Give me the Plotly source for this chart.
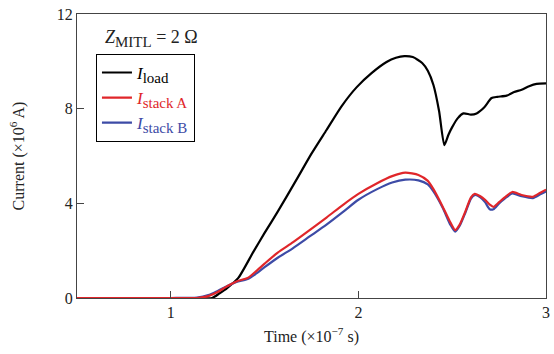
import plotly.graph_objects as go

t_load = [0.5, 1.0, 1.15, 1.22, 1.26, 1.3, 1.36, 1.44, 1.5, 1.57, 1.67, 1.75, 1.83, 1.91, 1.99, 2.07, 2.15, 2.2, 2.245, 2.29, 2.34, 2.37, 2.40, 2.43, 2.458, 2.48, 2.5, 2.53, 2.56, 2.60, 2.63, 2.67, 2.71, 2.74, 2.79, 2.83, 2.87, 2.91, 2.95, 3.0]
i_load = [0, 0, 0, 0.0, 0.2, 0.42, 0.85, 1.95, 2.75, 3.65, 5.0, 6.1, 7.1, 8.1, 8.9, 9.5, 9.97, 10.15, 10.22, 10.18, 9.93, 9.6, 9.0, 7.9, 6.46, 6.9, 7.22, 7.6, 7.8, 7.75, 7.8, 8.05, 8.45, 8.5, 8.55, 8.7, 8.8, 8.95, 9.05, 9.07]

t_stack = [0.5, 1.0, 1.14, 1.2, 1.25, 1.3, 1.35, 1.41, 1.45, 1.5, 1.57, 1.65, 1.74, 1.83, 1.92, 2.0, 2.1, 2.18, 2.25, 2.32, 2.37, 2.40, 2.45, 2.49, 2.516, 2.54, 2.57, 2.60, 2.62, 2.65, 2.675, 2.70, 2.72, 2.75, 2.78, 2.82, 2.87, 2.93, 2.97, 3.0]
i_stack_a = [0, 0, 0, 0.08, 0.25, 0.5, 0.7, 0.85, 1.1, 1.45, 1.92, 2.35, 2.87, 3.4, 3.95, 4.4, 4.85, 5.15, 5.3, 5.2, 4.95, 4.6, 3.85, 3.2, 2.87, 3.1, 3.65, 4.25, 4.4, 4.3, 4.15, 3.95, 3.85, 4.05, 4.25, 4.48, 4.35, 4.28, 4.45, 4.58]
i_stack_b = [0, 0, 0.02, 0.12, 0.3, 0.5, 0.68, 0.8, 1.0, 1.3, 1.7, 2.1, 2.6, 3.1, 3.65, 4.15, 4.6, 4.88, 5.0, 4.97, 4.8, 4.5, 3.8, 3.1, 2.8, 3.05, 3.6, 4.2, 4.35, 4.25, 4.05, 3.75, 3.75, 4.0, 4.2, 4.42, 4.3, 4.22, 4.38, 4.5]

x_ticks = [1, 2, 3]
y_ticks = [0, 4, 8, 12]

BLACK = "#000000"
RED = "#e0262a"
BLUE = "#3d4ba6"
FONT = "Liberation Serif"


def leg(sub, color):
    return (f"<span style='color:{color}'><i>I</i><sub>"
            f"<span style='font-size:15px'>{sub}</span></sub></span>")


fig = go.Figure()
fig.add_trace(go.Scatter(x=t_load, y=i_load, mode="lines",
                         line=dict(color=BLACK, width=2.2, shape="spline", smoothing=0.6),
                         name=leg("load", BLACK), legendrank=1))
fig.add_trace(go.Scatter(x=t_stack, y=i_stack_b, mode="lines",
                         line=dict(color=BLUE, width=2.2, shape="spline", smoothing=0.6),
                         name=leg("stack B", BLUE), legendrank=3))
fig.add_trace(go.Scatter(x=t_stack, y=i_stack_a, mode="lines",
                         line=dict(color=RED, width=2.2, shape="spline", smoothing=0.6),
                         name=leg("stack A", RED), legendrank=2))

axis_common = dict(showline=True, linecolor="#444444", linewidth=1.2, mirror=True,
                   ticks="inside", ticklen=7, tickcolor="#444444", showgrid=False,
                   zeroline=False, tickfont=dict(family=FONT, size=16, color="#222222"))

fig.update_layout(
    width=554, height=354,
    margin=dict(l=77, r=4, t=14, b=56),
    paper_bgcolor="white", plot_bgcolor="white",
    font=dict(family=FONT, size=16, color="#222222"),
    xaxis=dict(range=[0.5, 3], tickvals=x_ticks, ticktext=[str(v) for v in x_ticks],
               title=dict(text="Time (×10<sup>−7</sup> s)", standoff=10,
                          font=dict(family=FONT, size=16)),
               **axis_common),
    yaxis=dict(range=[0, 12], tickvals=y_ticks, ticktext=[str(v) for v in y_ticks],
               title=dict(text="Current (×10<sup>6</sup> A)", standoff=28,
                          font=dict(family=FONT, size=16)),
               **axis_common),
    legend=dict(x=0.04, y=0.86, xanchor="left", yanchor="top",
                bordercolor="#000000", borderwidth=1.2, bgcolor="white",
                font=dict(family=FONT, size=17, color=BLACK),
                tracegroupgap=0, itemwidth=30, traceorder="normal"),
    showlegend=True,
)

fig.add_annotation(xref="paper", yref="paper", x=0.055, y=0.915, xanchor="left", yanchor="middle",
                   text="<i>Z</i><sub><span style='font-size:15px'>MITL</span></sub> = 2 Ω",
                   showarrow=False,
                   font=dict(family=FONT, size=18, color="#222222"))

fig.write_html("out.html")
